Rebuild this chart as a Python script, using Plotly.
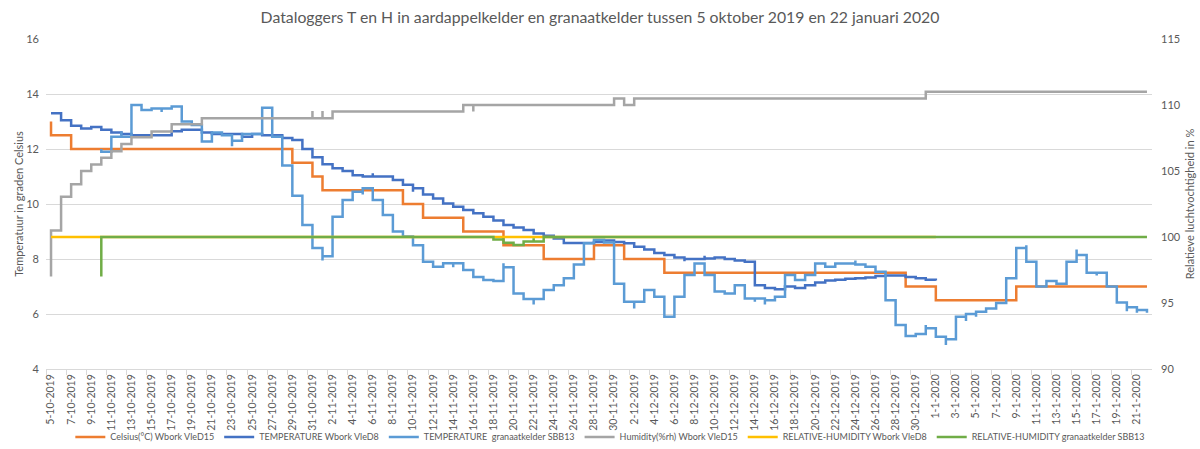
import pandas as pd
import plotly.graph_objects as go

TITLE = "Dataloggers T en H in aardappelkelder en granaatkelder tussen 5 oktober 2019 en 22 januari 2020"
Y1_TITLE = "Temperatuur in graden Celsius"
Y2_TITLE = "Relatieve luchtvochtigheid in %"

# ---- Celsius(°C) Wbork VleD15 (left axis) ; repeated dates = several readings on one day
celsius_vled15_dates = ["2019-10-05", "2019-10-05", "2019-10-07", "2019-10-29", "2019-10-31", "2019-11-01",
                        "2019-11-09", "2019-11-11", "2019-11-15", "2019-11-19", "2019-11-23", "2019-11-28",
                        "2019-12-01", "2019-12-05", "2019-12-29", "2020-01-01", "2020-01-09", "2020-01-22"]
celsius_vled15_values = [13.0, 12.5, 12.0, 11.5, 11.0, 10.5,
                         10.0, 9.5, 9.0, 8.5, 8.0, 8.5,
                         8.0, 7.5, 7.0, 6.5, 7.0, 7.0]

# ---- TEMPERATURE Wbork VleD8 (left axis)
temp_vled8_dates = ["2019-10-05", "2019-10-06", "2019-10-07", "2019-10-08", "2019-10-09", "2019-10-10",
                    "2019-10-11", "2019-10-12", "2019-10-13", "2019-10-17", "2019-10-18", "2019-10-20",
                    "2019-10-21", "2019-10-24", "2019-10-25", "2019-10-26", "2019-10-28", "2019-10-29",
                    "2019-10-30", "2019-10-31", "2019-11-01", "2019-11-02", "2019-11-03", "2019-11-04",
                    "2019-11-05", "2019-11-06", "2019-11-06", "2019-11-08", "2019-11-09", "2019-11-10",
                    "2019-11-10", "2019-11-11", "2019-11-12", "2019-11-13", "2019-11-14", "2019-11-15",
                    "2019-11-16", "2019-11-17", "2019-11-18", "2019-11-19", "2019-11-20", "2019-11-21",
                    "2019-11-22", "2019-11-23", "2019-11-24", "2019-11-25", "2019-11-28", "2019-11-29",
                    "2019-11-30", "2019-12-01", "2019-12-02", "2019-12-03", "2019-12-04", "2019-12-05",
                    "2019-12-06", "2019-12-07", "2019-12-07", "2019-12-09", "2019-12-09", "2019-12-10",
                    "2019-12-11", "2019-12-12", "2019-12-13", "2019-12-14", "2019-12-15", "2019-12-16",
                    "2019-12-17", "2019-12-18", "2019-12-19", "2019-12-20", "2019-12-21", "2019-12-22",
                    "2019-12-23", "2019-12-24", "2019-12-25", "2019-12-26", "2019-12-27", "2019-12-29",
                    "2019-12-30", "2019-12-31", "2019-12-31", "2020-01-01"]
temp_vled8_values = [13.3, 13.05, 12.85, 12.75, 12.8, 12.7,
                     12.6, 12.55, 12.5, 12.65, 12.7, 12.6,
                     12.55, 12.45, 12.55, 12.5, 12.4, 12.33,
                     12.0, 11.7, 11.45, 11.3, 11.2, 11.05,
                     11.0, 11.12, 11.0, 10.87, 10.7, 10.45,
                     10.57, 10.35, 10.2, 10.02, 9.9, 9.78,
                     9.66, 9.54, 9.4, 9.24, 9.15, 9.05,
                     8.93, 8.85, 8.75, 8.58, 8.62, 8.67,
                     8.62, 8.57, 8.45, 8.35, 8.22, 8.15,
                     8.05, 7.92, 8.0, 8.12, 8.02, 8.05,
                     8.0, 7.95, 7.9, 7.05, 6.95, 6.9,
                     7.0, 6.95, 7.05, 7.15, 7.22, 7.25,
                     7.28, 7.3, 7.33, 7.38, 7.4, 7.35,
                     7.3, 7.35, 7.25, 7.22]

# ---- TEMPERATURE  granaatkelder SBB13 (left axis)
temp_sbb13_dates = ["2019-10-10", "2019-10-10", "2019-10-11", "2019-10-12", "2019-10-12", "2019-10-13",
                    "2019-10-14", "2019-10-15", "2019-10-16", "2019-10-16", "2019-10-17", "2019-10-18",
                    "2019-10-19", "2019-10-20", "2019-10-21", "2019-10-22", "2019-10-23", "2019-10-23",
                    "2019-10-24", "2019-10-26", "2019-10-27", "2019-10-28", "2019-10-29", "2019-10-30",
                    "2019-10-31", "2019-11-01", "2019-11-01", "2019-11-02", "2019-11-03", "2019-11-04",
                    "2019-11-05", "2019-11-05", "2019-11-06", "2019-11-07", "2019-11-08", "2019-11-09",
                    "2019-11-10", "2019-11-11", "2019-11-12", "2019-11-13", "2019-11-13", "2019-11-13",
                    "2019-11-14", "2019-11-14", "2019-11-15", "2019-11-16", "2019-11-17", "2019-11-18",
                    "2019-11-19", "2019-11-19", "2019-11-20", "2019-11-21", "2019-11-22", "2019-11-22",
                    "2019-11-23", "2019-11-24", "2019-11-25", "2019-11-26", "2019-11-27", "2019-11-28",
                    "2019-11-29", "2019-11-30", "2019-12-01", "2019-12-02", "2019-12-02", "2019-12-03",
                    "2019-12-04", "2019-12-05", "2019-12-06", "2019-12-07", "2019-12-08", "2019-12-09",
                    "2019-12-10", "2019-12-11", "2019-12-12", "2019-12-13", "2019-12-14", "2019-12-14",
                    "2019-12-15", "2019-12-15", "2019-12-16", "2019-12-17", "2019-12-18", "2019-12-19",
                    "2019-12-20", "2019-12-21", "2019-12-22", "2019-12-24", "2019-12-24", "2019-12-25",
                    "2019-12-26", "2019-12-27", "2019-12-27", "2019-12-28", "2019-12-29", "2019-12-30",
                    "2019-12-31", "2019-12-31", "2020-01-01", "2020-01-02", "2020-01-02", "2020-01-03",
                    "2020-01-04", "2020-01-04", "2020-01-05", "2020-01-05", "2020-01-06", "2020-01-07",
                    "2020-01-08", "2020-01-09", "2020-01-10", "2020-01-10", "2020-01-11", "2020-01-12",
                    "2020-01-13", "2020-01-14", "2020-01-15", "2020-01-15", "2020-01-16", "2020-01-17",
                    "2020-01-17", "2020-01-18", "2020-01-19", "2020-01-20", "2020-01-20", "2020-01-21",
                    "2020-01-21", "2020-01-22", "2020-01-22"]
temp_sbb13_values = [12.0, 11.9, 12.45, 12.65, 12.45, 13.6,
                     13.42, 13.47, 13.35, 13.47, 13.55, 13.0,
                     12.87, 12.27, 12.6, 12.5, 12.1, 12.3,
                     12.55, 13.5, 12.45, 11.4, 10.3, 9.24,
                     8.4, 7.95, 8.1, 9.54, 10.15, 10.45,
                     10.35, 10.57, 10.15, 9.6, 9.0, 8.82,
                     8.5, 7.9, 7.72, 7.85, 7.7, 7.85,
                     7.7, 7.85, 7.6, 7.35, 7.24, 7.2,
                     7.85, 7.7, 6.75, 6.55, 6.35, 6.55,
                     6.87, 7.05, 7.3, 7.8, 8.57, 8.7,
                     8.6, 7.1, 6.45, 6.2, 6.45, 6.87,
                     6.63, 5.9, 6.63, 7.42, 7.84, 7.42,
                     6.82, 6.75, 7.05, 6.56, 6.45, 6.56,
                     6.35, 6.5, 6.63, 7.42, 7.24, 7.42,
                     7.84, 7.72, 7.84, 7.95, 7.8, 7.72,
                     7.54, 7.35, 6.5, 5.6, 5.2, 5.27,
                     5.6, 5.48, 5.17, 4.87, 5.08, 5.9,
                     5.75, 6.0, 5.9, 6.08, 6.2, 6.4,
                     7.3, 8.4, 8.5, 7.9, 7.0, 7.2,
                     7.1, 7.9, 8.35, 8.15, 7.5, 7.4,
                     7.5, 7.0, 6.42, 6.1, 6.25, 6.05,
                     6.15, 6.05, 6.15]

# ---- Humidity(%rh) Wbork VleD15 (right axis)
hum_vled15_dates = ["2019-10-05", "2019-10-05", "2019-10-06", "2019-10-07", "2019-10-08", "2019-10-09",
                    "2019-10-10", "2019-10-11", "2019-10-12", "2019-10-13", "2019-10-15", "2019-10-17",
                    "2019-10-20", "2019-10-31", "2019-10-31", "2019-11-01", "2019-11-01", "2019-11-02",
                    "2019-11-15", "2019-11-16", "2019-11-16", "2019-11-30", "2019-12-01", "2019-12-02",
                    "2019-12-31", "2020-01-22"]
hum_vled15_values = [97.0, 100.5, 103.05, 104.0, 105.0, 105.5,
                     106.0, 106.5, 107.05, 107.55, 108.0, 108.55,
                     109.0, 109.55, 109.0, 109.55, 109.0, 109.5,
                     110.0, 109.5, 110.0, 110.5, 110.0, 110.5,
                     111.0, 111.0]

# ---- RELATIVE-HUMIDITY Wbork VleD8 (right axis)
rh_vled8_dates = ["2019-10-05", "2020-01-01"]
rh_vled8_values = [100.0, 100.0]

# ---- RELATIVE-HUMIDITY granaatkelder SBB13 (right axis)
rh_sbb13_dates = ["2019-10-10", "2019-10-10", "2019-11-18", "2019-11-19", "2019-11-20", "2019-11-21",
                  "2019-11-22", "2019-11-22", "2019-11-23", "2020-01-22"]
rh_sbb13_values = [97.0, 100.0, 99.82, 99.57, 99.39, 99.65,
                   99.9, 99.65, 100.0, 100.0]

# ---- x-axis tick labels (every second day)
tick_days = list(pd.date_range("2019-10-05", "2020-01-21", freq="2D"))
tick_labels = [f"{d.day}-{d.month}-{d.year}" for d in tick_days]

HALF_DAY = pd.Timedelta(hours=12)


def day_centre(dates):
    # Excel date axis with base unit "days": every reading of a day sits in the middle of its day cell
    return pd.to_datetime(dates) + HALF_DAY


series = [
    ("Celsius(°C) Wbork VleD15", celsius_vled15_dates, celsius_vled15_values, "#ED7D31", "y"),
    ("TEMPERATURE Wbork VleD8", temp_vled8_dates, temp_vled8_values, "#4472C4", "y"),
    ("TEMPERATURE  granaatkelder SBB13", temp_sbb13_dates, temp_sbb13_values, "#5B9BD5", "y"),
    ("Humidity(%rh) Wbork VleD15", hum_vled15_dates, hum_vled15_values, "#A5A5A5", "y2"),
    ("RELATIVE-HUMIDITY Wbork VleD8", rh_vled8_dates, rh_vled8_values, "#FFC000", "y2"),
    ("RELATIVE-HUMIDITY granaatkelder SBB13", rh_sbb13_dates, rh_sbb13_values, "#70AD47", "y2"),
]

FONT = "Lato, 'Open Sans', sans-serif"
TXT = "#595959"
GRID = "#D9D9D9"

fig = go.Figure()
for name, dates, values, color, yax in series:
    fig.add_trace(go.Scatter(
        x=day_centre(dates), y=values, name=name, yaxis=yax,
        mode="lines", line=dict(color=color, width=2.5, shape="hv"),
    ))

fig.update_layout(
    width=1200, height=449,
    margin=dict(l=46, r=48, t=39, b=80, autoexpand=False),
    paper_bgcolor="white", plot_bgcolor="white",
    font=dict(family=FONT, color=TXT, size=11),
    title=dict(text=TITLE, x=0.5, xanchor="center", xref="container",
               y=1 - 17 / 449, yanchor="middle", yref="container",
               font=dict(family=FONT, size=15.8, color=TXT)),
    xaxis=dict(
        type="date",
        range=[pd.Timestamp("2019-10-05"), pd.Timestamp("2020-01-23")],
        tickmode="array",
        tickvals=[d + HALF_DAY for d in tick_days],
        ticktext=tick_labels,
        tickangle=-90,
        ticks="",
        tickfont=dict(size=10.5, color=TXT),
        showgrid=False, zeroline=False,
        showline=True, linecolor=GRID, linewidth=1,
        minor=dict(tickmode="array", tickvals=tick_days, ticks="outside",
                   ticklen=5, tickcolor=GRID, tickwidth=1, showgrid=False),
    ),
    yaxis=dict(
        range=[4, 16], dtick=2, tick0=4,
        showgrid=True, gridcolor=GRID, gridwidth=1, zeroline=False,
        showline=False, ticks="",
        tickfont=dict(size=11, color=TXT),
        ticklabelstandoff=6,
        title=dict(text=Y1_TITLE, font=dict(size=11, color=TXT), standoff=0),
    ),
    yaxis2=dict(
        range=[90, 115], dtick=5, tick0=90,
        overlaying="y", side="right",
        showgrid=False, zeroline=False, showline=False, ticks="",
        tickfont=dict(size=11, color=TXT),
        ticklabelstandoff=8,
        title=dict(text=Y2_TITLE, font=dict(size=11, color=TXT), standoff=6),
    ),
    legend=dict(
        orientation="h", x=0.022, xanchor="left", y=-0.206, yanchor="middle",
        font=dict(size=9, color=TXT), bgcolor="rgba(0,0,0,0)",
        tracegroupgap=0, itemwidth=30,
    ),
    showlegend=True,
)

fig.write_html("out.html")
